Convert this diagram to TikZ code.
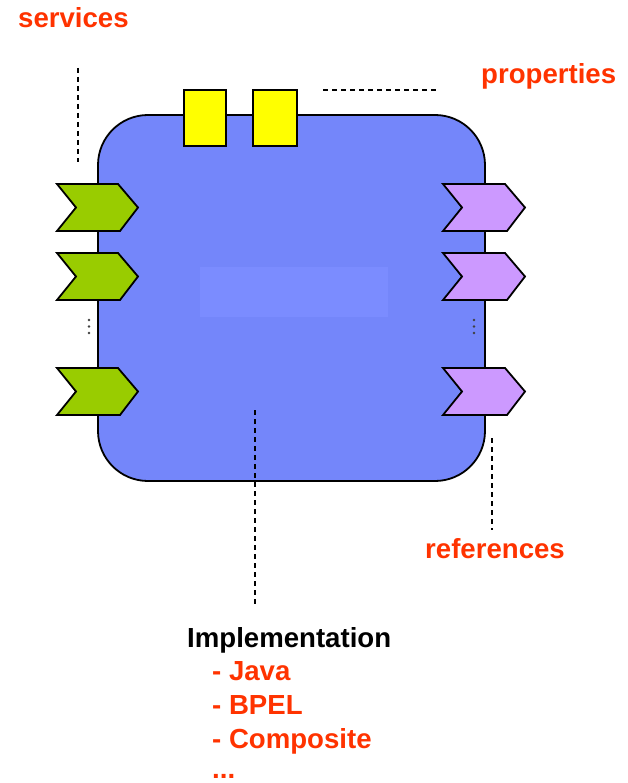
\documentclass[tikz,border=0pt]{standalone}
\usepackage{fontspec}
\setmainfont{Liberation Sans}
\begin{document}
\definecolor{compblue}{RGB}{116,134,250}
\definecolor{compinner}{RGB}{123,140,255}
\definecolor{propyellow}{RGB}{255,255,0}
\definecolor{servgreen}{RGB}{153,204,0}
\definecolor{refpurple}{RGB}{204,153,255}
\definecolor{labelred}{RGB}{255,51,0}
\begin{tikzpicture}[x=1pt,y=-1pt,
  outline/.style={draw=black,line width=1.8pt,line join=miter},
  leader/.style={draw=black,line width=1.4pt,dash pattern=on 5pt off 4pt},
  lbl/.style={inner sep=0pt,anchor=base west,font=\fontsize{27.6}{32}\selectfont\bfseries},
  redlbl/.style={lbl,text=labelred},
  dotmark/.style={fill=black!75,inner sep=0pt,minimum size=2.8pt,circle}]
\useasboundingbox (0,0) rectangle (628,783);

% component body
\draw[outline,fill=compblue,rounded corners=50pt] (98,115) rectangle (485,481);
\fill[compinner] (200,267) rectangle (388,317);

% property boxes on the top edge
\node[outline,fill=propyellow,minimum width=42pt,minimum height=56pt,inner sep=0pt] (prop1) at (205,118) {};
\node[outline,fill=propyellow,minimum width=44pt,minimum height=56pt,inner sep=0pt] (prop2) at (275,118) {};

% service chevrons on the left edge
\foreach \y in {184,253,368}{
  \draw[outline,fill=servgreen] (57,\y) -- (118,\y) -- (138,\y+23.5) -- (120,\y+47) -- (57,\y+47) -- (76,\y+23.5) -- cycle;
}
% reference chevrons on the right edge
\foreach \y in {184,253,368}{
  \draw[outline,fill=refpurple] (443,\y) -- (505,\y) -- (525,\y+23.5) -- (507,\y+47) -- (443,\y+47) -- (462,\y+23.5) -- cycle;
}

% ellipsis dots between chevrons
\foreach \y in {320,326.5,333}{
  \node[dotmark] at (89,\y) {};
  \node[dotmark] at (474,\y) {};
}

% labels
\node[redlbl] (services) at (18,28) {services};
\node[redlbl] (properties) at (481,84) {properties};
\node[redlbl] (references) at (425,558) {references};
\node[lbl] (impl) at (187,647) {Implementation};
\node[redlbl] (java) at (212,680) {- Java};
\node[redlbl] (bpel) at (212,714) {- BPEL};
\node[redlbl] (composite) at (212,748) {- Composite};
\node[redlbl] (more) at (212,778) {...};

% leader lines
\coordinate (servTop) at (78,68);
\coordinate (servEnd) at (78,162);
\coordinate (propA) at (323,90);
\coordinate (propB) at (437,90);
\coordinate (refTop) at (492,438);
\coordinate (refEnd) at (492,530);
\coordinate (implTop) at (255,410);
\coordinate (implEnd) at (255,605);
\draw[leader] (servTop) -- (servEnd);
\draw[leader] (propA) -- (propB);
\draw[leader] (refTop) -- (refEnd);
\draw[leader] (implTop) -- (implEnd);
\end{tikzpicture}
\end{document}
